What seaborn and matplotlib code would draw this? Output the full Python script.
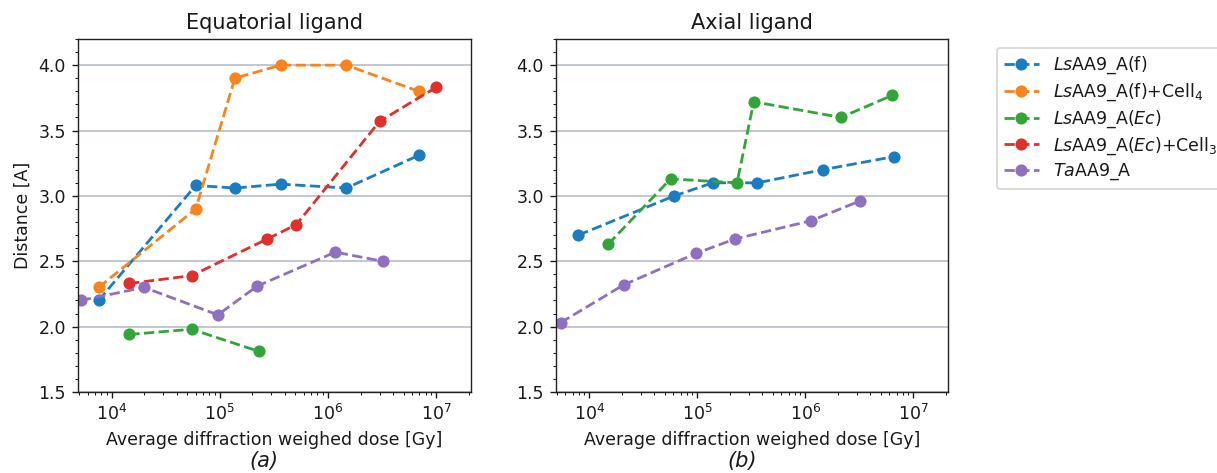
import numpy as np
import pandas as pd
import seaborn as sns
import matplotlib
matplotlib.use("Agg")
import matplotlib.pyplot as plt
from matplotlib.ticker import MultipleLocator

# ---------------- data ----------------
series_names = [
    r"$\mathit{Ls}$AA9_A(f)",
    r"$\mathit{Ls}$AA9_A(f)+Cell$_4$",
    r"$\mathit{Ls}$AA9_A($\mathit{Ec}$)",
    r"$\mathit{Ls}$AA9_A($\mathit{Ec}$)+Cell$_3$",
    r"$\mathit{Ta}$AA9_A",
]
series_colors = ["#1b7cc2", "#f7841f", "#33a538", "#e0302b", "#8f6fbf"]

# Equatorial ligand
eq_f_dose = [7.6e3, 6.0e4, 1.38e5, 3.65e5, 1.48e6, 6.9e6]
eq_f_dist = [2.20, 3.08, 3.06, 3.09, 3.06, 3.31]
eq_fc_dose = [7.6e3, 6.0e4, 1.38e5, 3.65e5, 1.48e6, 6.9e6]
eq_fc_dist = [2.30, 2.90, 3.90, 4.00, 4.00, 3.80]
eq_ec_dose = [1.46e4, 5.5e4, 2.31e5]
eq_ec_dist = [1.94, 1.98, 1.81]
eq_ecc_dose = [1.46e4, 5.5e4, 2.74e5, 5.1e5, 3.0e6, 1.0e7]
eq_ecc_dist = [2.33, 2.39, 2.67, 2.78, 3.57, 3.83]
eq_ta_dose = [5.2e3, 2.0e4, 9.6e4, 2.22e5, 1.17e6, 3.2e6]
eq_ta_dist = [2.20, 2.30, 2.09, 2.31, 2.57, 2.50]

# Axial ligand
ax_f_dose = [7.9e3, 6.1e4, 1.39e5, 3.6e5, 1.45e6, 6.6e6]
ax_f_dist = [2.70, 3.00, 3.10, 3.10, 3.20, 3.30]
ax_ec_dose = [1.49e4, 5.65e4, 2.33e5, 3.33e5, 2.14e6, 6.4e6]
ax_ec_dist = [2.63, 3.13, 3.10, 3.72, 3.60, 3.77]
ax_ta_dose = [5.4e3, 2.08e4, 9.7e4, 2.22e5, 1.13e6, 3.18e6]
ax_ta_dist = [2.03, 2.32, 2.56, 2.67, 2.81, 2.96]

titles = ["Equatorial ligand", "Axial ligand"]
xlabel = "Average diffraction weighed dose [Gy]"
ylabel = "Distance [A]"
subcaptions = ["(a)", "(b)"]

# ---------------- build tidy frames ----------------
def frame(pairs):
    rows = []
    for name, dose, dist in pairs:
        for d, v in zip(dose, dist):
            rows.append({"series": name, "dose": d, "dist": v})
    return pd.DataFrame(rows)

eq_df = frame([
    (series_names[0], eq_f_dose, eq_f_dist),
    (series_names[1], eq_fc_dose, eq_fc_dist),
    (series_names[2], eq_ec_dose, eq_ec_dist),
    (series_names[3], eq_ecc_dose, eq_ecc_dist),
    (series_names[4], eq_ta_dose, eq_ta_dist),
])
ax_df = frame([
    (series_names[0], ax_f_dose, ax_f_dist),
    (series_names[2], ax_ec_dose, ax_ec_dist),
    (series_names[4], ax_ta_dose, ax_ta_dist),
])

sns.set_style("ticks")
plt.rcParams["text.color"] = "#1a1a1a"
plt.rcParams["axes.labelcolor"] = "#1a1a1a"
plt.rcParams["xtick.color"] = "#1a1a1a"
plt.rcParams["ytick.color"] = "#1a1a1a"
palette = dict(zip(series_names, series_colors))

fig = plt.figure(figsize=(1217 / 125, 473 / 125), dpi=125)
ax1 = fig.add_axes([78 / 1217, 1 - 392 / 473, 393 / 1217, 353 / 473])
ax2 = fig.add_axes([556 / 1217, 1 - 392 / 473, 392 / 1217, 353 / 473])

for ax, df, title in [(ax1, eq_df, titles[0]), (ax2, ax_df, titles[1])]:
    for name in series_names:
        sub = df[df["series"] == name]
        if sub.empty:
            continue
        sns.lineplot(data=sub, x="dose", y="dist", ax=ax, color=palette[name],
                     linestyle="--", marker="o", markersize=7, markeredgewidth=0,
                     linewidth=1.6, label=name, legend=False, sort=False)
    ax.set_xscale("log")
    ax.set_xlim(4.9e3, 2.1e7)
    ax.set_ylim(1.5, 4.2)
    ax.yaxis.set_major_locator(MultipleLocator(0.5))
    ax.yaxis.set_minor_locator(MultipleLocator(0.1))
    ax.grid(axis="y", which="major", color="#b9c0cc", linewidth=1.0)
    ax.set_axisbelow(True)
    ax.set_title(title, fontsize=12)
    ax.set_xlabel(xlabel)
    ax.set_ylabel("")
    for s in ax.spines.values():
        s.set_visible(True)
        s.set_color("#222222")

ax1.set_ylabel(ylabel)

for cap, xpx in zip(subcaptions, [264, 742]):
    fig.text(xpx / 1217, 1 - 451 / 473, cap, ha="center", va="top",
             fontstyle="italic", fontsize=12)

handles, labels = ax1.get_legend_handles_labels()
fig.legend(handles, labels, loc="upper left", bbox_to_anchor=(997 / 1217, 1 - 48 / 473),
           borderaxespad=0.0, frameon=True, handlelength=2.0, labelspacing=0.3)

fig.savefig("out.png", dpi=125)
